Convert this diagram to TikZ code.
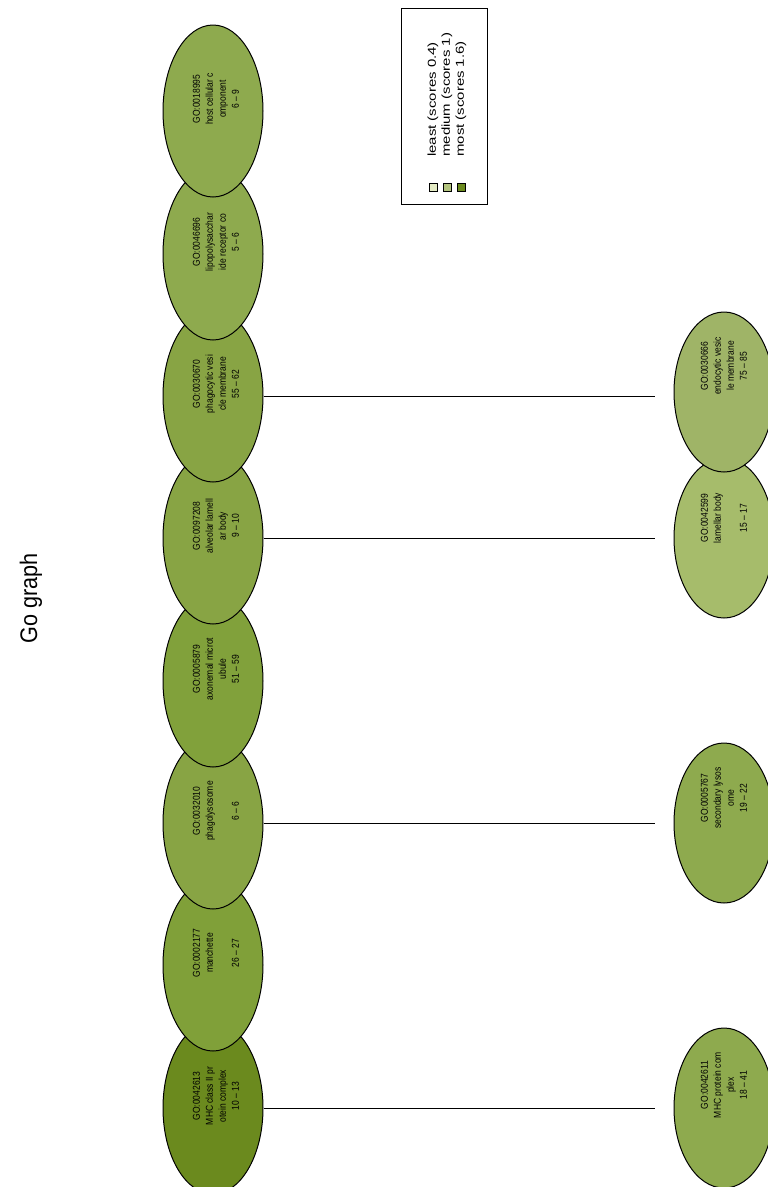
\documentclass[tikz,border=0pt]{standalone}
\usepackage{fontspec}
\setmainfont{Liberation Sans}
\usepackage{xcolor}
\usetikzlibrary{shapes.geometric}

\definecolor{gomost}{HTML}{6B8A1E}
\definecolor{godark}{HTML}{80A039}
\definecolor{gomid}{HTML}{88A444}
\definecolor{golite}{HTML}{8EAA4E}
\definecolor{gopale}{HTML}{A6BC6B}
\definecolor{goleast}{HTML}{E4EBC4}
\definecolor{gomedium}{HTML}{B3C47E}

\begin{document}
\begin{tikzpicture}[x=1pt, y=-1pt,
    goell/.style={ellipse, draw, line width=1pt, minimum width=172pt, minimum height=100pt, inner sep=0pt, rotate=90},
    gosub/.style={goell, minimum width=160pt},
    goterm/.style={rotate=90, xscale=0.85, align=center, inner sep=0pt, font=\fontsize{10}{13}\selectfont},
    edge/.style={line width=0.8pt, shorten >=19pt},
    keybox/.style={draw, line width=0.6pt, minimum size=8pt, inner sep=0pt},
    keytext/.style={rotate=90, xscale=1.3, anchor=west, inner sep=0pt, font=\fontsize{11.5}{14}\selectfont}]

    \useasboundingbox (0,0) rectangle (768,1187);

    % title
    \node[rotate=90, xscale=0.9, font=\fontsize{24}{28}\selectfont] (title) at (31,598) {Go graph};

    % upper row, drawn from the bottom up
    \node[goell, fill=gomost] (go42613) at (213,1108) {};
    \node[goterm] (t42613) at (216,1096) {GO:0042613\\MHC class II pr\\otein complex\\10 – 13};

    \node[goell, fill=godark] (go2177) at (213,965) {};
    \node[goterm] (t2177) at (216,953) {GO:0002177\\manchette\\[13pt]26 – 27};

    \node[goell, fill=gomid] (go32010) at (213,823) {};
    \node[goterm] (t32010) at (216,811) {GO:0032010\\phagolysosome\\[13pt]6 – 6};

    \node[goell, fill=godark!85!gomid] (go5879) at (213,681) {};
    \node[goterm] (t5879) at (216,669) {GO:0005879\\axonemal microt\\ubule\\51 – 59};

    \node[goell, fill=gomid] (go97208) at (213,538) {};
    \node[goterm] (t97208) at (216,526) {GO:0097208\\alveolar lamell\\ar body\\9 – 10};

    \node[goell, fill=gomid] (go30670) at (213,396) {};
    \node[goterm] (t30670) at (216,384) {GO:0030670\\phagocytic vesi\\cle membrane\\55 – 62};

    \node[goell, fill=golite] (go46696) at (213,254) {};
    \node[goterm] (t46696) at (216,242) {GO:0046696\\lipopolysacchar\\ide receptor co\\5 – 6};

    \node[goell, fill=golite] (go18995) at (213,111) {};
    \node[goterm] (t18995) at (216,99) {GO:0018995\\host cellular c\\omponent\\6 – 9};

    % lower row
    \node[gosub, fill=golite] (go42611) at (724,1108) {};
    \node[goterm] (t42611) at (724,1085) {GO:0042611\\MHC protein com\\plex\\18 – 41};

    \node[gosub, fill=golite] (go5767) at (724,823) {};
    \node[goterm] (t5767) at (724,798) {GO:0005767\\secondary lysos\\ome\\19 – 22};

    \node[gosub, fill=gopale] (go42599) at (724,538) {};
    \node[goterm] (t42599) at (724,518) {GO:0042599\\lamellar body\\[13pt]15 – 17};

    \node[gosub, fill=gopale!96!black] (go30666) at (724,392) {};
    \node[goterm] (t30666) at (724,366) {GO:0030666\\endocytic vesic\\le membrane\\75 – 85};

    % links
    \draw[edge] (go42613.south) -- (go42611.north);
    \draw[edge] (go32010.south) -- (go5767.north);
    \draw[edge] (go97208.south) -- (go42599.north);
    \draw[edge] (go30670.south) -- (go30666.north |- go30670.south);

    % legend
    \draw[line width=0.6pt] (401,8) rectangle (487,204);
    \node[keybox, fill=goleast] (k1) at (433,187) {};
    \node[keybox, fill=gomedium] (k2) at (447,187) {};
    \node[keybox, fill=gomost] (k3) at (461,187) {};
    \node[keytext] (l1) at (433,157) {least (scores 0.4)};
    \node[keytext] (l2) at (447,157) {medium (scores 1)};
    \node[keytext] (l3) at (461,157) {most (scores 1.6)};

\end{tikzpicture}
\end{document}
